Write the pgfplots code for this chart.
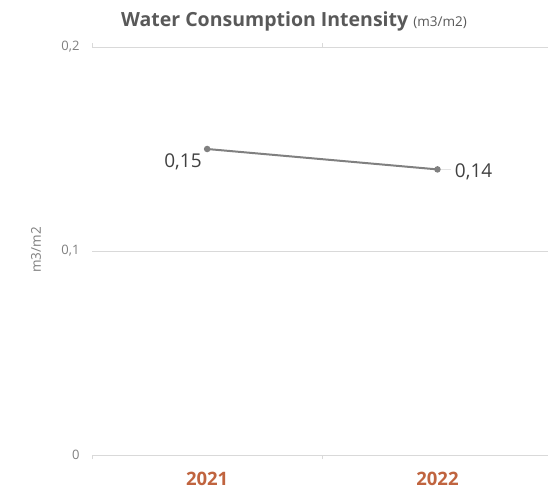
\documentclass[border=0pt]{standalone}
\usepackage{pgfplots}
\pgfplotsset{compat=1.18}
\usepackage{fontspec}
\setmainfont{Open Sans}
\definecolor{titlegray}{HTML}{595959}
\definecolor{tickgray}{HTML}{7F7F7F}
\definecolor{gridgray}{HTML}{D9D9D9}
\definecolor{linegray}{HTML}{808080}
\definecolor{labeldark}{HTML}{404040}
\definecolor{yearorange}{HTML}{C0643F}
\begin{document}
\begin{tikzpicture}
\path[use as bounding box] (0pt,0pt) rectangle (548pt,491pt);
\begin{axis}[
  at={(92pt,36pt)}, anchor=south west,
  scale only axis, width=456pt, height=408pt,
  xmin=-0.5, xmax=1.48, ymin=0, ymax=0.2,
  axis line style={draw=none},
  xtick={0,1}, xticklabels={2021,2022},
  xticklabel style={font=\fontsize{18.5}{22}\selectfont\bfseries, text=yearorange, yshift=-9pt},
  major x tick style={draw=none},
  minor xtick={-0.5,0.5},
  minor x tick style={draw=gridgray, line width=0.8pt},
  minor tick length=4pt,
  xtick align=outside,
  ytick={0,0.1,0.2},
  yticklabels={0,{0,1},{0,2}},
  yticklabel style={font=\fontsize{13}{15}\selectfont, text=tickgray, xshift=-9pt},
  major y tick style={draw=none},
  ymajorgrids, grid style={draw=gridgray, line width=0.8pt},
  clip=false,
]
\addplot[linegray, line width=2pt, mark=*, mark size=2.2pt, mark options={fill=linegray, draw=linegray}]
  coordinates {(0,0.15) (1,0.14)};
\draw[gridgray, line width=0.8pt] (axis cs:-0.5,0) -- (axis cs:1.48,0);
\draw[gridgray!70, line width=0.6pt] ([xshift=3pt]axis cs:1,0.14) -- ([xshift=14pt]axis cs:1,0.14);
\node[anchor=east, text=labeldark, font=\fontsize{19}{22}\selectfont] at ([xshift=-2pt,yshift=-13pt]axis cs:0,0.15) {0,15};
\node[anchor=west, text=labeldark, font=\fontsize{19}{22}\selectfont] at ([xshift=14pt,yshift=-2pt]axis cs:1,0.14) {0,14};
\end{axis}
\node[rotate=90, text=tickgray, font=\fontsize{13.5}{15}\selectfont] at (36pt,241pt) {m3/m2};
\node[anchor=base, text=titlegray] at (294pt,464pt) {\fontsize{19.5}{22}\selectfont\bfseries Water Consumption Intensity \fontsize{13.5}{15}\mdseries\selectfont (m3/m2)};
\end{tikzpicture}
\end{document}
